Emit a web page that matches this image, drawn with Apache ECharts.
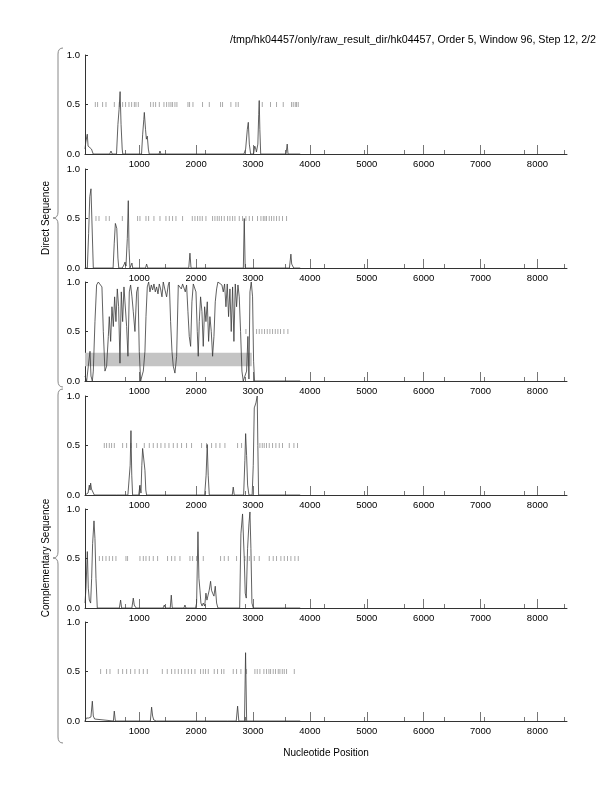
<!DOCTYPE html>
<html><head><meta charset="utf-8">
<script src="https://cdn.jsdelivr.net/npm/echarts@6/dist/echarts.min.js"></script>
<style>html,body{margin:0;padding:0;background:#fff}#c{width:612px;height:792px}</style>
</head><body><div id="c"></div>
<script>
const titleText = "/tmp/hk04457/only/raw_result_dir/hk04457, Order 5, Window 96, Step 12, 2/2";
const xTitle = "Nucleotide Position";
const groupLabels = ["Direct Sequence", "Complementary Sequence"];
const xMin = 46, xMax = 8520;
const majorTicks = [1000, 2000, 3000, 4000, 5000, 6000, 7000, 8000];
const minorTicks = [750, 1452, 2154, 2856, 3558, 4260, 4962, 5664, 6366, 7068, 7770, 8472];

const curve1 = [[46,0.05],[60,0.12],[86,0.2],[100,0.08],[120,0.1],[135,0.09],[160,0.05],[190,0],[480,0],[503,0.03],[525,0],[600,0],[625,0.3],[645,0.45],[663,0.63],[680,0.3],[700,0.05],[710,0],[1040,0],[1060,0.2],[1080,0.35],[1089,0.42],[1110,0.25],[1125,0.15],[1141,0.18],[1160,0.05],[1175,0],[1350,0],[1364,0.03],[1380,0],[2840,0],[2870,0.05],[2900,0.25],[2917,0.32],[2935,0.1],[2958,0],[3010,0],[3030,0.08],[3039,0.1],[3050,0.05],[3060,0.02],[3085,0.1],[3100,0.4],[3109,0.54],[3120,0.25],[3135,0],[3580,0],[3595,0.07],[3601,0.1],[3615,0],[3830,0]];
const curve2 = [[46,0],[87,0],[110,0.35],[130,0.72],[151,0.8],[165,0.82],[180,0.78],[192,0],[540,0],[560,0.25],[580,0.45],[590,0.47],[605,0.4],[615,0.38],[625,0.1],[640,0],[700,0],[730,0.03],[750,0.06],[766,0.02],[790,0.3],[807,0.68],[820,0.2],[836,0],[860,0],[871,0.05],[885,0],[1110,0],[1129,0.04],[1150,0],[1870,0],[1891,0.15],[1910,0],[2830,0],[2846,0.5],[2862,0],[3640,0],[3666,0.14],[3680,0.04],[3700,0.05],[3715,0],[3830,0]];
const curve3 = [[46,0.05],[75,0.0],[104,0.15],[134,0.3],[151,0.05],[175,0.0],[192,0.1],[221,0.6],[250,0.97],[280,1.0],[309,1.0],[344,0.95],[368,0.5],[397,0.1],[426,0.15],[456,0.45],[473,0.65],[497,0.4],[520,0.75],[544,0.55],[567,0.85],[590,0.6],[614,0.93],[637,0.75],[661,0.18],[684,0.9],[708,0.6],[731,0.95],[754,0.97],[778,0.55],[801,0.25],[825,0.9],[848,0.97],[872,0.85],[895,0.7],[924,0.5],[954,0.9],[977,0.95],[1000,0.3],[1024,0.0],[1047,0.05],[1071,0.1],[1100,0.3],[1118,0.65],[1141,0.95],[1165,1.0],[1188,0.9],[1212,0.97],[1235,0.92],[1258,0.98],[1282,0.9],[1305,0.95],[1329,0.88],[1352,0.98],[1375,0.93],[1399,0.85],[1422,1.0],[1452,0.92],[1481,0.85],[1510,0.97],[1528,1.0],[1551,0.6],[1575,0.3],[1598,0.15],[1627,0.08],[1657,0.25],[1686,0.97],[1715,0.97],[1739,0.93],[1762,0.98],[1785,1.0],[1809,0.9],[1832,0.97],[1856,0.7],[1879,0.45],[1903,0.35],[1926,0.8],[1950,0.98],[1973,1.0],[1997,0.9],[2020,0.5],[2037,0.25],[2055,0.6],[2078,0.85],[2102,0.7],[2125,0.35],[2149,0.75],[2172,0.6],[2196,0.8],[2219,0.4],[2242,0.65],[2266,0.5],[2289,0.25],[2313,0.45],[2336,0.8],[2360,0.93],[2383,1.0],[2418,1.0],[2453,0.97],[2477,0.9],[2500,0.98],[2524,0.75],[2547,0.98],[2570,0.65],[2594,0.93],[2617,0.5],[2641,0.95],[2664,0.4],[2688,0.98],[2711,0.75],[2735,0.97],[2758,0.85],[2781,0.5],[2805,0.1],[2828,0.0],[2857,0.0],[2887,0.1],[2910,0.45],[2928,0.02],[2946,0.9],[2969,1.0],[2992,0.85],[3010,0.2],[3027,0],[3830,0]];
const curve4 = [[46,0],[100,0.02],[122,0.1],[135,0.05],[145,0.12],[160,0.06],[192,0.05],[210,0],[600,0],[631,0.02],[660,0],[800,0],[819,0.02],[840,0.3],[854,0.65],[868,0.2],[883,0],[990,0],[1012,0.1],[1030,0.02],[1045,0.3],[1059,0.47],[1082,0.48],[1100,0.25],[1115,0.05],[1129,0],[2150,0],[2175,0.2],[2195,0.51],[2212,0.2],[2231,0],[2635,0],[2652,0.08],[2670,0],[2835,0],[2857,0.35],[2870,0.62],[2887,0.4],[2905,0.1],[2928,0],[2985,0],[3004,0.3],[3022,0.88],[3051,0.93],[3074,1.0],[3085,0.5],[3098,0],[3830,0]];
const curve5 = [[46,0.05],[63,0.2],[87,0.57],[104,0.2],[122,0.08],[145,0.05],[163,0.3],[180,0.65],[204,0.88],[221,0.7],[239,0.3],[262,0],[650,0],[672,0.08],[690,0],[870,0],[895,0.1],[912,0.03],[925,0.05],[945,0],[1420,0],[1440,0.03],[1460,0],[1545,0],[1563,0.13],[1580,0],[1785,0],[1803,0.03],[1820,0],[1990,0],[2008,0.05],[2032,0.77],[2049,0.3],[2067,0.18],[2084,0.05],[2105,0.02],[2125,0.05],[2150,0.02],[2172,0.15],[2190,0.08],[2207,0.1],[2230,0.18],[2254,0.27],[2270,0.18],[2289,0.15],[2313,0.12],[2336,0.22],[2360,0.05],[2383,0],[2765,0],[2787,0.75],[2816,0.95],[2846,0.5],[2863,0.15],[2881,0.1],[2904,0.6],[2928,0.85],[2946,0.97],[2963,0.6],[2981,0.05],[3004,0],[3120,0],[3133,0.02],[3150,0],[3830,0]];
const curve6 = [[46,0],[70,0.03],[90,0.01],[110,0.03],[130,0.02],[150,0.04],[175,0.2],[192,0.05],[215,0.02],[240,0],[545,0],[561,0.1],[580,0],[1195,0],[1217,0.14],[1235,0.05],[1255,0.01],[1276,0.02],[1300,0],[2550,0],[2564,0.02],[2580,0],[2705,0],[2729,0.15],[2750,0],[2850,0],[2869,0.69],[2888,0],[3830,0]];

const rug1 = [227,268,356,415,561,649,708,760,819,866,913,942,983,1200,1246,1288,1352,1434,1481,1522,1557,1586,1627,1662,1856,1885,1944,2113,2231,2430,2465,2611,2699,2740,3162,3308,3414,3531,3678,3707,3742,3766,3795];
const rug2 = [239,292,415,473,702,971,1012,1118,1165,1258,1364,1469,1528,1586,1645,1762,1932,1979,2026,2067,2108,2172,2289,2330,2371,2406,2447,2494,2553,2594,2641,2682,2758,2816,2875,2934,2992,3080,3139,3180,3209,3238,3285,3326,3367,3414,3461,3519,3590];
const rug3 = [2875,3063,3109,3156,3203,3250,3297,3344,3391,3437,3484,3543,3613];
const rug4 = [385,426,473,514,561,708,778,854,954,1088,1176,1246,1317,1381,1452,1522,1598,1668,1744,1832,1920,2096,2184,2272,2348,2418,2506,2729,2799,3121,3162,3197,3238,3285,3344,3402,3461,3519,3637,3719,3783];
const rug5 = [298,356,415,473,532,590,766,795,1012,1071,1118,1176,1246,1323,1498,1569,1627,1715,1891,1938,2008,2125,2430,2494,2565,2711,2858,2934,3022,3109,3285,3355,3414,3490,3549,3607,3666,3736,3795];
const rug6 = [321,426,485,631,708,778,848,924,1000,1071,1141,1405,1492,1569,1627,1686,1744,1803,1862,1920,1979,2078,2125,2166,2213,2318,2377,2447,2488,2652,2711,2787,2887,3033,3074,3121,3191,3238,3279,3309,3355,3396,3443,3473,3514,3549,3590,3725];
const rugLevel = 0.5;
const band3 = {x0: 46, x1: 2978, y0: 0.15, y1: 0.285};

const curves = [curve1, curve2, curve3, curve4, curve5, curve6];
const rugs = [rug1, rug2, rug3, rug4, rug5, rug6];

const FONT = "Liberation Sans";
const tops = [55, 169, 282, 396, 509, 622];
const H = 99;
const grids = [], xAxes = [], yAxes = [], series = [];
tops.forEach((t, i) => {
  grids.push({left: 85, right: 45, top: t, height: H});
  xAxes.push({
    type: 'value', gridIndex: i, min: xMin, max: xMax, position: 'bottom',
    axisLine: {show: true, lineStyle: {color: '#333', width: 1}},
    axisTick: {show: true, inside: true, length: 9, customValues: majorTicks, lineStyle: {color: '#777', width: 1}},
    axisLabel: {show: true, customValues: majorTicks, fontSize: 9.5, color: '#000', margin: 5, fontFamily: FONT, formatter: v => String(Math.round(v))},
    splitLine: {show: false},
    name: i === 5 ? xTitle : '', nameLocation: 'middle', nameGap: 27,
    nameTextStyle: {fontSize: 10, color: '#000', fontFamily: FONT}
  });
  xAxes.push({
    type: 'value', gridIndex: i, min: xMin, max: xMax, position: 'bottom', offset: 0,
    axisLine: {show: false},
    axisTick: {show: true, inside: true, length: 4, customValues: minorTicks, lineStyle: {color: '#777', width: 1}},
    axisLabel: {show: false},
    splitLine: {show: false}
  });
  yAxes.push({
    type: 'value', gridIndex: i, min: 0, max: 1, interval: 0.5,
    axisLine: {show: true, lineStyle: {color: '#333', width: 1}},
    axisTick: {show: true, inside: true, length: 3, lineStyle: {color: '#333'}},
    axisLabel: {fontSize: 9.5, color: '#000', margin: 5, fontFamily: FONT, formatter: v => v.toFixed(1)},
    splitLine: {show: false}
  });
  const s = {
    type: 'line', xAxisIndex: 2 * i, yAxisIndex: i, data: curves[i],
    showSymbol: false, symbol: 'none', animation: false, z: 3,
    lineStyle: {color: '#3a3a3a', width: 0.8}
  };
  if (i === 2) {
    s.markArea = {silent: true, itemStyle: {color: '#c4c4c4', opacity: 1},
      data: [[{xAxis: band3.x0, yAxis: band3.y0}, {xAxis: band3.x1, yAxis: band3.y1}]]};
  }
  series.push(s);
  series.push({
    type: 'scatter', xAxisIndex: 2 * i, yAxisIndex: i, animation: false,
    data: rugs[i].map(x => [x, rugLevel]),
    symbol: 'rect', symbolSize: [0.9, 5], itemStyle: {color: '#8a8a8a'}, z: 2
  });
});

// curly brace made of bezier curves and straight lines
function brace(x, y0, y1, tip) {
  const st = {fill: null, stroke: '#888', lineWidth: 1};
  const q = (x1, y1, cx, cy, x2, y2) => ({type: 'bezierCurve', silent: true,
    shape: {x1: x1, y1: y1, cpx1: cx, cpy1: cy, x2: x2, y2: y2}, style: st});
  const l = (x1, y1, x2, y2) => ({type: 'line', silent: true, shape: {x1: x1, y1: y1, x2: x2, y2: y2}, style: st});
  return [
    q(x + 5, y0, x, y0, x, y0 + 6),
    l(x, y0 + 6, x, tip - 6),
    q(x, tip - 6, x, tip, x - 5, tip),
    q(x - 5, tip, x, tip, x, tip + 6),
    l(x, tip + 6, x, y1 - 6),
    q(x, y1 - 6, x, y1, x + 5, y1)
  ];
}

const chart = echarts.init(document.getElementById('c'), null, {renderer: 'canvas'});
chart.setOption({
  animation: false,
  backgroundColor: '#fff',
  title: {text: titleText, right: 11, top: 30, textStyle: {fontSize: 10.7, fontWeight: 'normal', color: '#000', fontFamily: FONT}},
  grid: grids, xAxis: xAxes, yAxis: yAxes, series: series,
  graphic: [].concat(
    brace(58, 48, 387, 218),
    brace(58, 389, 743, 558),
    [
      {type: 'text', x: 46, y: 218, rotation: Math.PI / 2, style: {text: groupLabels[0], fontSize: 10, fill: '#000', fontFamily: FONT, align: 'center', verticalAlign: 'middle'}},
      {type: 'text', x: 46, y: 558, rotation: Math.PI / 2, style: {text: groupLabels[1], fontSize: 10, fill: '#000', fontFamily: FONT, align: 'center', verticalAlign: 'middle'}}
    ]
  )
});
</script></body></html>
